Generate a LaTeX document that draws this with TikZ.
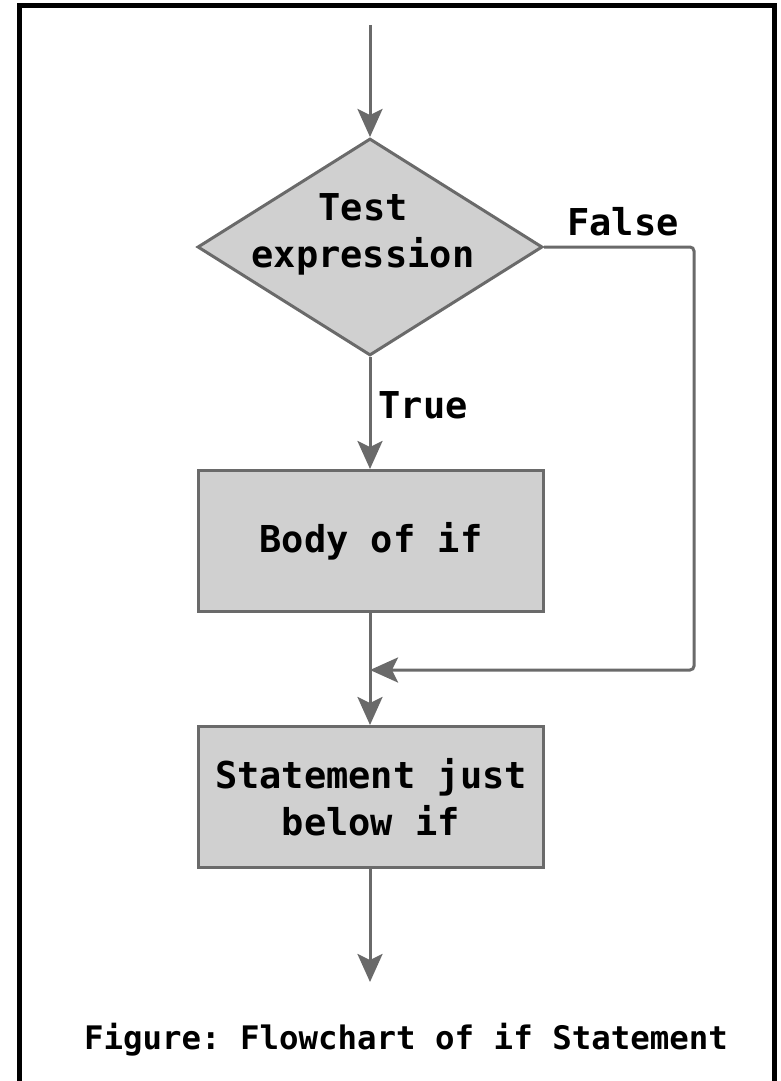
\documentclass[tikz,border=0pt]{standalone}
\usepackage{fontspec}
\setmonofont{DejaVu Sans Mono}
\usepackage{tikz}
\usetikzlibrary{
  positioning,
  shapes.geometric,
  arrows.meta
}
\definecolor{flowgray}{HTML}{6A6A6A}
\definecolor{boxgray}{HTML}{D0D0D0}
\tikzset{
  flowtext/.style={font=\ttfamily\bfseries\fontsize{18.5}{23.5}\selectfont},
  decision/.style={diamond,draw=flowgray,fill=boxgray,line width=1.5pt,
    minimum width=172.5pt,minimum height=108.5pt,aspect=1.6,inner sep=0pt},
  block/.style={rectangle,draw=flowgray,fill=boxgray,line width=1.5pt,
    minimum width=172.5pt,minimum height=70.5pt,inner sep=0pt,
    align=center,flowtext},
  flowline/.style={draw=flowgray,line width=1.5pt,
    -{Stealth[length=14pt,width=12.5pt,inset=3pt]}}
}

\begin{document}
\begin{tikzpicture}[x=0.5pt,y=-0.5pt]
		\useasboundingbox (0,0) rectangle (781,1081);
		\draw [line width=2.5pt] (19.5,1095) -- (19.5,5.5) -- (774.5,5.5) -- (774.5,1095);
		\node [decision] (test) at (370,247) {};
		\node [flowtext,align=center] (testlbl) at (363,234) {Test\\expression};
		\node [block] (body) at (371,541) {Body of if};
		\node [block] (stmt) at (371,797) {Statement just\\below if};
		\coordinate (start) at (370,25);
		\coordinate (finish) at (370,982);
		\coordinate (fright) at (694,247);
		\coordinate (fdown) at (694,670);
		\coordinate (join) at (370,670);
		\draw [flowline] (start) -- (test.north);
		\draw [flowline] (test.south) -- (body.north -| test.south);
		\draw [flowline,rounded corners=2pt] (test.east) -- (fright) -- (fdown) -- (join);
		\draw [flowline] (body.south -| test.south) -- (stmt.north -| test.south);
		\draw [flowline] (stmt.south -| test.south) -- (finish);
		\node [flowtext] (falselbl) at (623,222) {False};
		\node [flowtext] (truelbl) at (423,405) {True};
		\node [font=\ttfamily\bfseries\fontsize{16.2}{20}\selectfont] (caption) at (406,1040) {Figure: Flowchart of if Statement};
	\end{tikzpicture}
\end{document}
